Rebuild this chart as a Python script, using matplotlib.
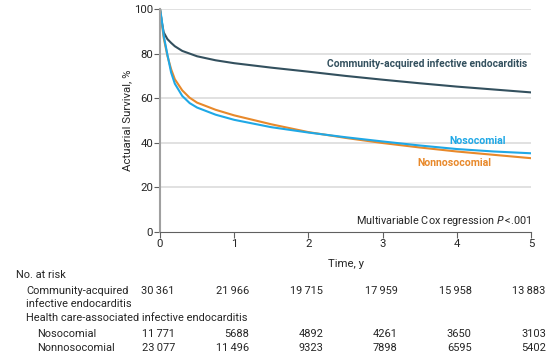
import matplotlib.pyplot as plt
import matplotlib.transforms as mtransforms

# survival curves
t = [0, 0.02, 0.05, 0.1, 0.15, 0.2, 0.3, 0.4, 0.5, 0.75, 1, 1.5, 2, 2.5, 3, 3.5, 4, 4.5, 5]
community = [100, 95, 89.5, 86.5, 84.8, 83.3, 81.2, 80, 78.8, 77, 75.7, 73.7, 71.9, 70, 68.3, 66.7, 65.2, 63.9, 62.6]
nosocomial = [100, 96, 88, 79.5, 71.5, 66.5, 61, 57.8, 55.8, 52.6, 50.3, 47, 44.6, 42.5, 40.6, 38.8, 37.2, 36.1, 35.3]
nonnosocomial = [100, 95, 87, 79, 73, 68.5, 63.5, 60.2, 58, 54.8, 52.3, 48.3, 44.8, 42.2, 39.9, 37.9, 36.1, 34.6, 33.1]

# numbers at risk
risk_years = [0, 1, 2, 3, 4, 5]
risk_community = ['30\u2009361', '21\u2009966', '19\u2009715', '17\u2009959', '15\u2009958', '13\u2009883']
risk_nosocomial = ['11\u2009771', '5688', '4892', '4261', '3650', '3103']
risk_nonnosocomial = ['23\u2009077', '11\u2009496', '9323', '7898', '6595', '5402']

c_comm = '#33505e'
c_noso = '#1fa8e6'
c_non = '#e8892b'
c_txt = '#262626'

plt.rcParams['font.family'] = ['Roboto', 'DejaVu Sans']
plt.rcParams['font.size'] = 8

fig = plt.figure(figsize=(5.52, 3.58), dpi=100)
ax = fig.add_axes([160 / 552, 1 - 232 / 358, 371 / 552, 223 / 358])

for y in [20, 40, 60, 80, 100]:
    ax.axhline(y, color='#dcdcdc', lw=1.2, zorder=0)

ax.plot(t, community, color=c_comm, lw=1.5)
ax.plot(t, nonnosocomial, color=c_non, lw=1.5)
ax.plot(t, nosocomial, color=c_noso, lw=1.5)

ax.set_xlim(0, 5)
ax.set_ylim(0, 100)
ax.set_xticks(range(6))
ax.set_yticks(range(0, 101, 20))
for s in ['top', 'right']:
    ax.spines[s].set_visible(False)
ax.spines['left'].set_color('#a0a0a0')
ax.spines['left'].set_linewidth(1.5)
ax.spines['bottom'].set_color('#606060')
ax.tick_params(colors='#606060', labelcolor=c_txt, length=4, labelsize=8.2, pad=1)

ax.set_ylabel('Actuarial Survival, %', color=c_txt, fontsize=8.2, labelpad=1)
ax.set_xlabel('Time, y', color=c_txt, fontsize=8.2, labelpad=7)

ax.text(4.95, 75.3, 'Community-acquired infective endocarditis', color=c_comm,
        ha='right', va='center', fontsize=7.4, fontweight='bold')
ax.text(4.66, 40.8, 'Nosocomial', color=c_noso, ha='right', va='center', fontsize=7.6, fontweight='bold')
ax.text(4.46, 31, 'Nonnosocomial', color=c_non, ha='right', va='center', fontsize=7.6, fontweight='bold')
ax.text(5, 5, 'Multivariable Cox regression $\\it{P}$\u2009<.001', color=c_txt,
        ha='right', va='center', fontsize=7.8)

# at-risk table
tr = mtransforms.blended_transform_factory(ax.transData, fig.transFigure)
fy = lambda py: 1 - py / 358
fs = 7.9
fig.text(16 / 552, fy(275), 'No. at risk', color=c_txt, fontsize=fs, va='center')
fig.text(26 / 552, fy(291), 'Community-acquired', color=c_txt, fontsize=fs, va='center')
fig.text(26 / 552, fy(304), 'infective endocarditis', color=c_txt, fontsize=fs, va='center')
fig.text(26 / 552, fy(318), 'Health care-associated infective endocarditis', color=c_txt, fontsize=fs, va='center')
fig.text(37 / 552, fy(334), 'Nosocomial', color=c_txt, fontsize=fs, va='center')
fig.text(37 / 552, fy(348), 'Nonnosocomial', color=c_txt, fontsize=fs, va='center')

for yr, a, b, c in zip(risk_years, risk_community, risk_nosocomial, risk_nonnosocomial):
    x = yr + 0.2
    ax.text(x, fy(291), a, transform=tr, ha='right', va='center', color=c_txt, fontsize=fs)
    ax.text(x, fy(334), b, transform=tr, ha='right', va='center', color=c_txt, fontsize=fs)
    ax.text(x, fy(348), c, transform=tr, ha='right', va='center', color=c_txt, fontsize=fs)

fig.savefig('out.png', dpi=100)
